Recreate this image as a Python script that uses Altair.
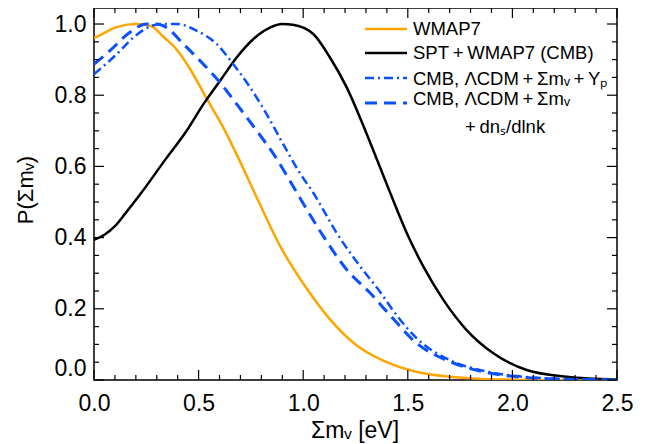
import altair as alt
import pandas as pd

# ---------------- data ----------------
wmap_x = [0.0, 0.05, 0.1, 0.2, 0.27, 0.33, 0.4, 0.46, 0.54, 0.62, 0.68, 0.78, 0.89, 1.02, 1.13, 1.25, 1.38, 1.54, 1.70, 1.86, 2.0, 2.2, 2.5]
wmap_y = [0.96, 0.975, 0.99, 1.0, 0.995, 0.965, 0.925, 0.873, 0.789, 0.707, 0.636, 0.51, 0.376, 0.254, 0.169, 0.100, 0.055, 0.023, 0.009, 0.003, 0.001, 0.0, 0.0]

spt_x = [0.0, 0.05, 0.1, 0.15, 0.22, 0.347, 0.443, 0.523, 0.602, 0.682, 0.762, 0.841, 0.9, 0.95, 1.048, 1.128, 1.208, 1.287, 1.367, 1.415, 1.495, 1.574, 1.67, 1.78, 1.909, 2.068, 2.26, 2.5]
spt_y = [0.394, 0.408, 0.432, 0.468, 0.521, 0.624, 0.70, 0.775, 0.84, 0.906, 0.958, 0.99, 1.0, 0.998, 0.972, 0.906, 0.822, 0.715, 0.598, 0.527, 0.413, 0.319, 0.225, 0.141, 0.075, 0.028, 0.009, 0.001]

yp_x = [0.0, 0.108, 0.188, 0.268, 0.33, 0.395, 0.491, 0.586, 0.666, 0.746, 0.826, 0.905, 0.98, 1.048, 1.16, 1.272, 1.367, 1.43, 1.543, 1.70, 1.86, 2.02, 2.2, 2.5]
yp_y = [0.859, 0.915, 0.962, 0.993, 1.0, 1.0, 0.981, 0.944, 0.887, 0.822, 0.746, 0.662, 0.585, 0.526, 0.413, 0.319, 0.248, 0.195, 0.117, 0.056, 0.026, 0.011, 0.004, 0.0]

dns_x = [0.0, 0.076, 0.172, 0.252, 0.3, 0.347, 0.427, 0.523, 0.602, 0.682, 0.778, 0.857, 0.921, 0.969, 1.096, 1.208, 1.319, 1.415, 1.543, 1.70, 1.86, 2.02, 2.2, 2.5]
dns_y = [0.887, 0.925, 0.977, 1.0, 1.0, 0.99, 0.944, 0.887, 0.836, 0.775, 0.70, 0.636, 0.575, 0.527, 0.404, 0.31, 0.245, 0.182, 0.103, 0.052, 0.023, 0.009, 0.003, 0.0]

x_major = [0.0, 0.5, 1.0, 1.5, 2.0, 2.5]
x_minor = [0.1, 0.2, 0.3, 0.4, 0.6, 0.7, 0.8, 0.9, 1.1, 1.2, 1.3, 1.4, 1.6, 1.7, 1.8, 1.9, 2.1, 2.2, 2.3, 2.4]
y_major = [0.0, 0.2, 0.4, 0.6, 0.8, 1.0]
y_minor = [0.05, 0.1, 0.15, 0.25, 0.3, 0.35, 0.45, 0.5, 0.55, 0.65, 0.7, 0.75, 0.85, 0.9, 0.95]

labels = ["WMAP7",
          "SPT\u2009+\u2009WMAP7 (CMB)",
          "CMB, \u039bCDM\u2009+\u2009\u03a3m\u1d65\u2009+\u2009Y\u209a",
          "CMB, \u039bCDM\u2009+\u2009\u03a3m\u1d65",
          "+\u2009dn\u209b/dlnk"]
x_title = "\u03a3m\u1d65 [eV]"
y_title = "P(\u03a3m\u1d65)"

ORANGE = "#FFA500"
BLUE = "#0A50FF"
FONT = "Liberation Sans"

W, H = 523, 372
xs = alt.Scale(domain=[0, 2.5], nice=False, zero=False)
ys = alt.Scale(domain=[0, 1.045], nice=False, zero=False)

XA = alt.Axis(values=x_major, format=".1f", ticks=False, domain=False, grid=False,
              labelFont=FONT, labelFontSize=23, labelColor="black", labelPadding=12,
              labelFlush=False, title=None)
YA = alt.Axis(values=y_major, format=".1f", ticks=False, domain=False, grid=False,
              labelFont=FONT, labelFontSize=23, labelColor="black", labelPadding=8,
              labelFlush=True, title=None)


def curve(xv, yv, color, width, dash=None):
    df = pd.DataFrame({"x": xv, "y": yv})
    kw = dict(color=color, strokeWidth=width, interpolate="monotone", clip=True)
    if dash is not None:
        kw["strokeDash"] = dash
    return alt.Chart(df).mark_line(**kw).encode(
        x=alt.X("x:Q", scale=xs, axis=XA),
        y=alt.Y("y:Q", scale=ys, axis=YA),
    )


def xticks(vals, length):
    df = pd.DataFrame({"t": vals})
    base = alt.Chart(df).mark_rule(color="black", strokeWidth=1.2)
    bottom = base.encode(x=alt.X("t:Q", scale=xs, axis=XA), y=alt.value(H), y2=alt.value(H - length))
    top = base.encode(x=alt.X("t:Q", scale=xs, axis=XA), y=alt.value(0), y2=alt.value(length))
    return [bottom, top]


def yticks(vals, length):
    df = pd.DataFrame({"t": vals})
    base = alt.Chart(df).mark_rule(color="black", strokeWidth=1.2)
    left = base.encode(y=alt.Y("t:Q", scale=ys, axis=YA), x=alt.value(0), x2=alt.value(length))
    right = base.encode(y=alt.Y("t:Q", scale=ys, axis=YA), x=alt.value(W), x2=alt.value(W - length))
    return [left, right]


def text(s, x, y, size=18.5, angle=0, align="left"):
    return alt.Chart(pd.DataFrame({"a": [0]})).mark_text(
        font=FONT, fontSize=size, color="black", align=align, baseline="middle", angle=angle
    ).encode(x=alt.value(x), y=alt.value(y), text=alt.value(s))


def sample(y, color, width, dash=None):
    kw = dict(color=color, strokeWidth=width)
    if dash is not None:
        kw["strokeDash"] = dash
    return alt.Chart(pd.DataFrame({"a": [0]})).mark_rule(**kw).encode(
        x=alt.value(271), x2=alt.value(313), y=alt.value(y))


DASH = [12, 7]
DASHDOT = [9, 4, 2, 4]

layers = [
    curve(wmap_x, wmap_y, ORANGE, 2.5),
    curve(spt_x, spt_y, "black", 2.5),
    curve(yp_x, yp_y, BLUE, 2.5, DASHDOT),
    curve(dns_x, dns_y, BLUE, 3, DASH),
]
layers += xticks(x_major, 10) + xticks(x_minor, 5) + yticks(y_major, 10) + yticks(y_minor, 5)
layers += [
    sample(21, ORANGE, 2.5),
    sample(45, "black", 2.5),
    sample(70, BLUE, 2.5, DASHDOT),
    sample(95, BLUE, 3, DASH),
    text(labels[0], 319, 21),
    text(labels[1], 319, 45),
    text(labels[2], 319, 71),
    text(labels[3], 319, 91),
    text(labels[4], 371, 119),
    text(x_title, 261, 423, size=23, align="center"),
    text(y_title, -68, 182, size=22, angle=270, align="center"),
]

chart = alt.layer(*layers).properties(
    width=W, height=H,
    padding={"left": 86, "top": 0, "right": 22, "bottom": 64},
    autosize=alt.AutoSizeParams(type="none"),
).configure_view(stroke="black", strokeWidth=1.5)

chart.save("out.html", embed_options={"renderer": "svg", "actions": False})
